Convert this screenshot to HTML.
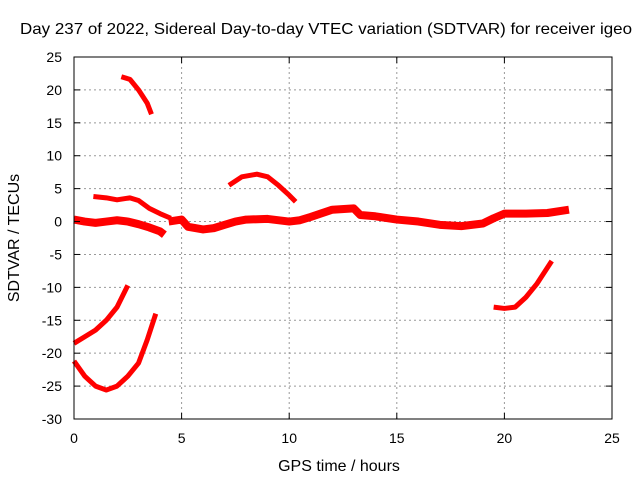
<!DOCTYPE html>
<html><head><meta charset="utf-8"><style>
body{margin:0;background:#fff;}
svg{font-family:"Liberation Sans",sans-serif;}
</style></head><body>
<svg id="chart" width="640" height="480">
<rect width="640" height="480" fill="#fff"/>
<g id="grid"></g>
<g id="series"></g>
<rect x="74" y="57" width="538" height="362" fill="none" stroke="#000" stroke-width="1"/>
<g id="ticks"></g>
<text x="20" y="34" font-size="16" textLength="612" lengthAdjust="spacingAndGlyphs">Day 237 of 2022, Sidereal Day-to-day VTEC variation (SDTVAR) for receiver igeo</text>
<text x="339" y="471" text-anchor="middle" font-size="16">GPS time / hours</text>
<text transform="translate(19,238) rotate(-90)" text-anchor="middle" font-size="16">SDTVAR / TECUs</text>
</svg>
<script>
const xTicks=[0,5,10,15,20,25];
const yTicks=[25,20,15,10,5,0,-5,-10,-15,-20,-25,-30];
const segA=[[2.2,22],[2.6,21.6],[3.0,20],[3.4,18],[3.6,16.3]];
const segB=[[0.9,3.8],[1.5,3.6],[2.0,3.3],[2.6,3.6],[3.0,3.2],[3.5,2.0],[4.0,1.2],[4.5,0.5]];
const segMain1=[[0,0.3],[0.5,0],[1,-0.2],[1.5,0],[2,0.2],[2.5,0],[3,-0.4],[3.5,-0.9],[4,-1.5],[4.2,-2]];
const segMain2=[[4.4,0],[5,0.3],[5.3,-0.8],[6,-1.2],[6.5,-1],[7,-0.5],[7.5,0],[8,0.3],[9,0.4],[10,0],[10.5,0.2],[11,0.7],[12,1.8],[13,2],[13.3,1],[14,0.8],[15,0.3],[16,0],[17,-0.5],[18,-0.7],[19,-0.3],[19.5,0.5],[20,1.2],[21,1.2],[22,1.3],[23,1.8]];
const segD=[[7.2,5.5],[7.8,6.8],[8.5,7.2],[9,6.8],[9.5,5.5],[10,4],[10.3,3]];
const segE=[[0,-18.5],[0.5,-17.5],[1,-16.5],[1.5,-15],[2,-13],[2.5,-9.7]];
const segF=[[0,-21.2],[0.5,-23.5],[1,-25],[1.5,-25.6],[2,-25],[2.5,-23.5],[3,-21.5],[3.4,-18],[3.8,-14]];
const segG=[[19.5,-13],[20,-13.2],[20.5,-13],[21,-11.5],[21.5,-9.5],[22.2,-6]];
const NS="http://www.w3.org/2000/svg";
const X=h=>74+h*538/25;
const Y=v=>57+(25-v)*362/55;
const grid=document.getElementById('grid'),ticks=document.getElementById('ticks'),ser=document.getElementById('series');
function mk(tag,attrs,parent){const e=document.createElementNS(NS,tag);for(const k in attrs)e.setAttribute(k,attrs[k]);parent.appendChild(e);return e;}
xTicks.forEach(t=>{
  if(t>0&&t<25){const l=mk('line',{x1:X(t),x2:X(t),y1:57,y2:419,stroke:'#999','stroke-dasharray':'2,3'},grid);
  
  }
  mk('line',{x1:X(t),x2:X(t),y1:419,y2:413,stroke:'#000'},ticks);
  mk('line',{x1:X(t),x2:X(t),y1:57,y2:63,stroke:'#000'},ticks);
  const tx=mk('text',{x:X(t),y:443,'text-anchor':'middle','font-size':14},ticks);tx.textContent=t;
  
  
});
yTicks.forEach(t=>{
  if(t<25&&t>-30){const l=mk('line',{x1:74,x2:612,y1:Y(t),y2:Y(t),stroke:'#999','stroke-dasharray':'2,3'},grid);
  
  }
  mk('line',{x1:74,x2:80,y1:Y(t),y2:Y(t),stroke:'#000'},ticks);
  mk('line',{x1:612,x2:606,y1:Y(t),y2:Y(t),stroke:'#000'},ticks);
  const tx=mk('text',{x:62,y:Y(t)+5,'text-anchor':'end','font-size':14},ticks);tx.textContent=t;
  
  
});
[[segA,5],[segB,5],[segMain1,8],[segMain2,8],[segD,5],[segE,5],[segF,5],[segG,5]].forEach(([s,w])=>{
  const p=mk('polyline',{points:s.map(d=>X(d[0])+','+Y(d[1])).join(' '),fill:'none',stroke:'#f00','stroke-width':w,'stroke-linejoin':'round'},ser);
  
  
});
</script>
</body></html>
